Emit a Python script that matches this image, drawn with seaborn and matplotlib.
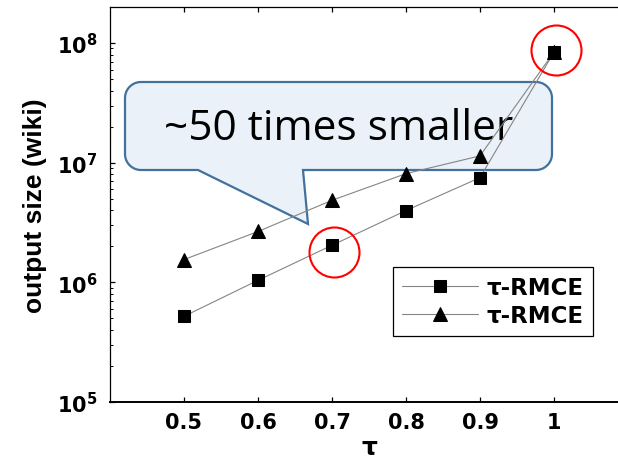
import numpy as np
import pandas as pd
import matplotlib
matplotlib.use("Agg")
import matplotlib.pyplot as plt
import matplotlib.transforms as mtransforms
from matplotlib.path import Path
from matplotlib.patches import PathPatch
import seaborn as sns

# ---- data -------------------------------------------------------------
tau = [0.5, 0.6, 0.7, 0.8, 0.9, 1.0]
size_square = [5.2e5, 1.04e6, 2.04e6, 3.98e6, 7.5e6, 8.4e7]
size_triangle = [1.55e6, 2.66e6, 4.85e6, 8.1e6, 1.14e7, 8.4e7]
series_labels = ["τ-RMCE", "τ-RMCE"]
x_ticks = [0.5, 0.6, 0.7, 0.8, 0.9, 1.0]
x_tick_labels = ["0.5", "0.6", "0.7", "0.8", "0.9", "1"]
callout_text = "~50 times smaller"

df_sq = pd.DataFrame({"tau": tau, "size": size_square})
df_tri = pd.DataFrame({"tau": tau, "size": size_triangle})

sns.set_style("ticks")
plt.rcParams["font.family"] = ["DejaVu Sans"]
for key in ["text.color", "axes.labelcolor", "xtick.color", "ytick.color",
            "axes.edgecolor"]:
    plt.rcParams[key] = "black"

W, H = 618, 460
fig = plt.figure(figsize=(W / 100, H / 100), dpi=100)
ax = fig.add_axes([110 / W, 57 / H, 518 / W, 395 / H])

line_kw = dict(color="#858585", linewidth=0.8, markerfacecolor="black",
               markeredgecolor="black", zorder=3)
sns.lineplot(data=df_sq, x="tau", y="size", marker="s", markersize=8,
             label=series_labels[0], ax=ax, **line_kw)
sns.lineplot(data=df_tri, x="tau", y="size", marker="^", markersize=9.5,
             label=series_labels[1], ax=ax, **line_kw)

ax.set_yscale("log")
ax.set_xlim(0.4, 1.1)
ax.set_ylim(1e5, 2e8)
ax.set_xticks(x_ticks)
ax.set_xticklabels(x_tick_labels)
ax.yaxis.set_major_locator(matplotlib.ticker.LogLocator(base=10, numticks=10))
ax.yaxis.set_major_formatter(matplotlib.ticker.FuncFormatter(
    lambda v, pos: r"$\mathbf{10^{%d}}$" % int(round(np.log10(v)))))
ax.yaxis.set_minor_locator(matplotlib.ticker.LogLocator(base=10, subs=np.arange(2, 10), numticks=10))
ax.yaxis.set_minor_formatter(matplotlib.ticker.NullFormatter())

ax.tick_params(axis="both", which="major", direction="in", length=3.8, width=0.9,
               top=True, right=False)
ax.tick_params(axis="y", which="minor", direction="in", length=2.2, width=0.7, right=False)
ax.tick_params(axis="x", which="major", labelsize=15, pad=7)
ax.tick_params(axis="y", which="major", labelsize=15, pad=9)
for lab in ax.get_xticklabels():
    lab.set_fontweight("bold")

for side in ["left", "top"]:
    ax.spines[side].set_linewidth(0.9)
ax.spines["bottom"].set_linewidth(1.4)
ax.spines["right"].set_visible(False)

ax.set_xlabel("τ", fontsize=18, fontweight="bold", labelpad=2.5)
ax.set_ylabel("output size (wiki)", fontsize=19, fontweight="bold",
              family="Liberation Sans", labelpad=7)

leg = ax.legend(loc="lower left", bbox_to_anchor=(0.546, 0.167), frameon=True,
                fancybox=False, framealpha=1, edgecolor="black",
                prop={"weight": "bold", "size": 16.5}, handlelength=3.3,
                handletextpad=0.4, labelspacing=0.2, borderpad=0.4,
                borderaxespad=0)
leg.get_frame().set_linewidth(0.9)

# ---- highlight circles around two points -------------------------------
circle_kw = dict(marker="o", markersize=36, markerfacecolor="none",
                 markeredgecolor="red", markeredgewidth=1.5, linestyle="none",
                 zorder=4, clip_on=False)
ax.plot([tau[-1]], [size_square[-1]],
        transform=mtransforms.offset_copy(ax.transData, fig, x=1.5, y=1.5, units="points"),
        **circle_kw)
ax.plot([tau[2]], [size_square[2]],
        transform=mtransforms.offset_copy(ax.transData, fig, x=1.5, y=-4.5, units="points"),
        **circle_kw)

# ---- speech-bubble callout ---------------------------------------------
def callout_path(x0, y0, x1, y1, r, tail_l, tail_r, tip):
    pts = []

    def arc(cx, cy, a0, a1):
        for a in np.linspace(a0, a1, 14):
            pts.append((cx + r * np.cos(a), cy + r * np.sin(a)))

    arc(x0 + r, y0 + r, np.pi, 1.5 * np.pi)
    arc(x1 - r, y0 + r, 1.5 * np.pi, 2 * np.pi)
    arc(x1 - r, y1 - r, 0, 0.5 * np.pi)
    pts.append((tail_r, y1))
    pts.append(tip)
    pts.append((tail_l, y1))
    arc(x0 + r, y1 - r, 0.5 * np.pi, np.pi)
    pts.append(pts[0])
    verts = [(px / W, 1 - py / H) for px, py in pts]
    codes = [Path.MOVETO] + [Path.LINETO] * (len(verts) - 2) + [Path.CLOSEPOLY]
    return Path(verts, codes)


bubble = PathPatch(callout_path(125, 83, 552, 171, 16, 198, 303, (308, 225)),
                   transform=fig.transFigure, facecolor="#EAF1F9",
                   edgecolor="#41719C", linewidth=1.6, zorder=1, clip_on=False)
ax.add_patch(bubble)
ax.text((125 + 552) / 2 / W, 1 - 129 / H, callout_text, transform=fig.transFigure,
        ha="center", va="center", fontsize=30.5, family="Open Sans",
        color="black", zorder=1.5)

fig.savefig("out.png", dpi=100)
